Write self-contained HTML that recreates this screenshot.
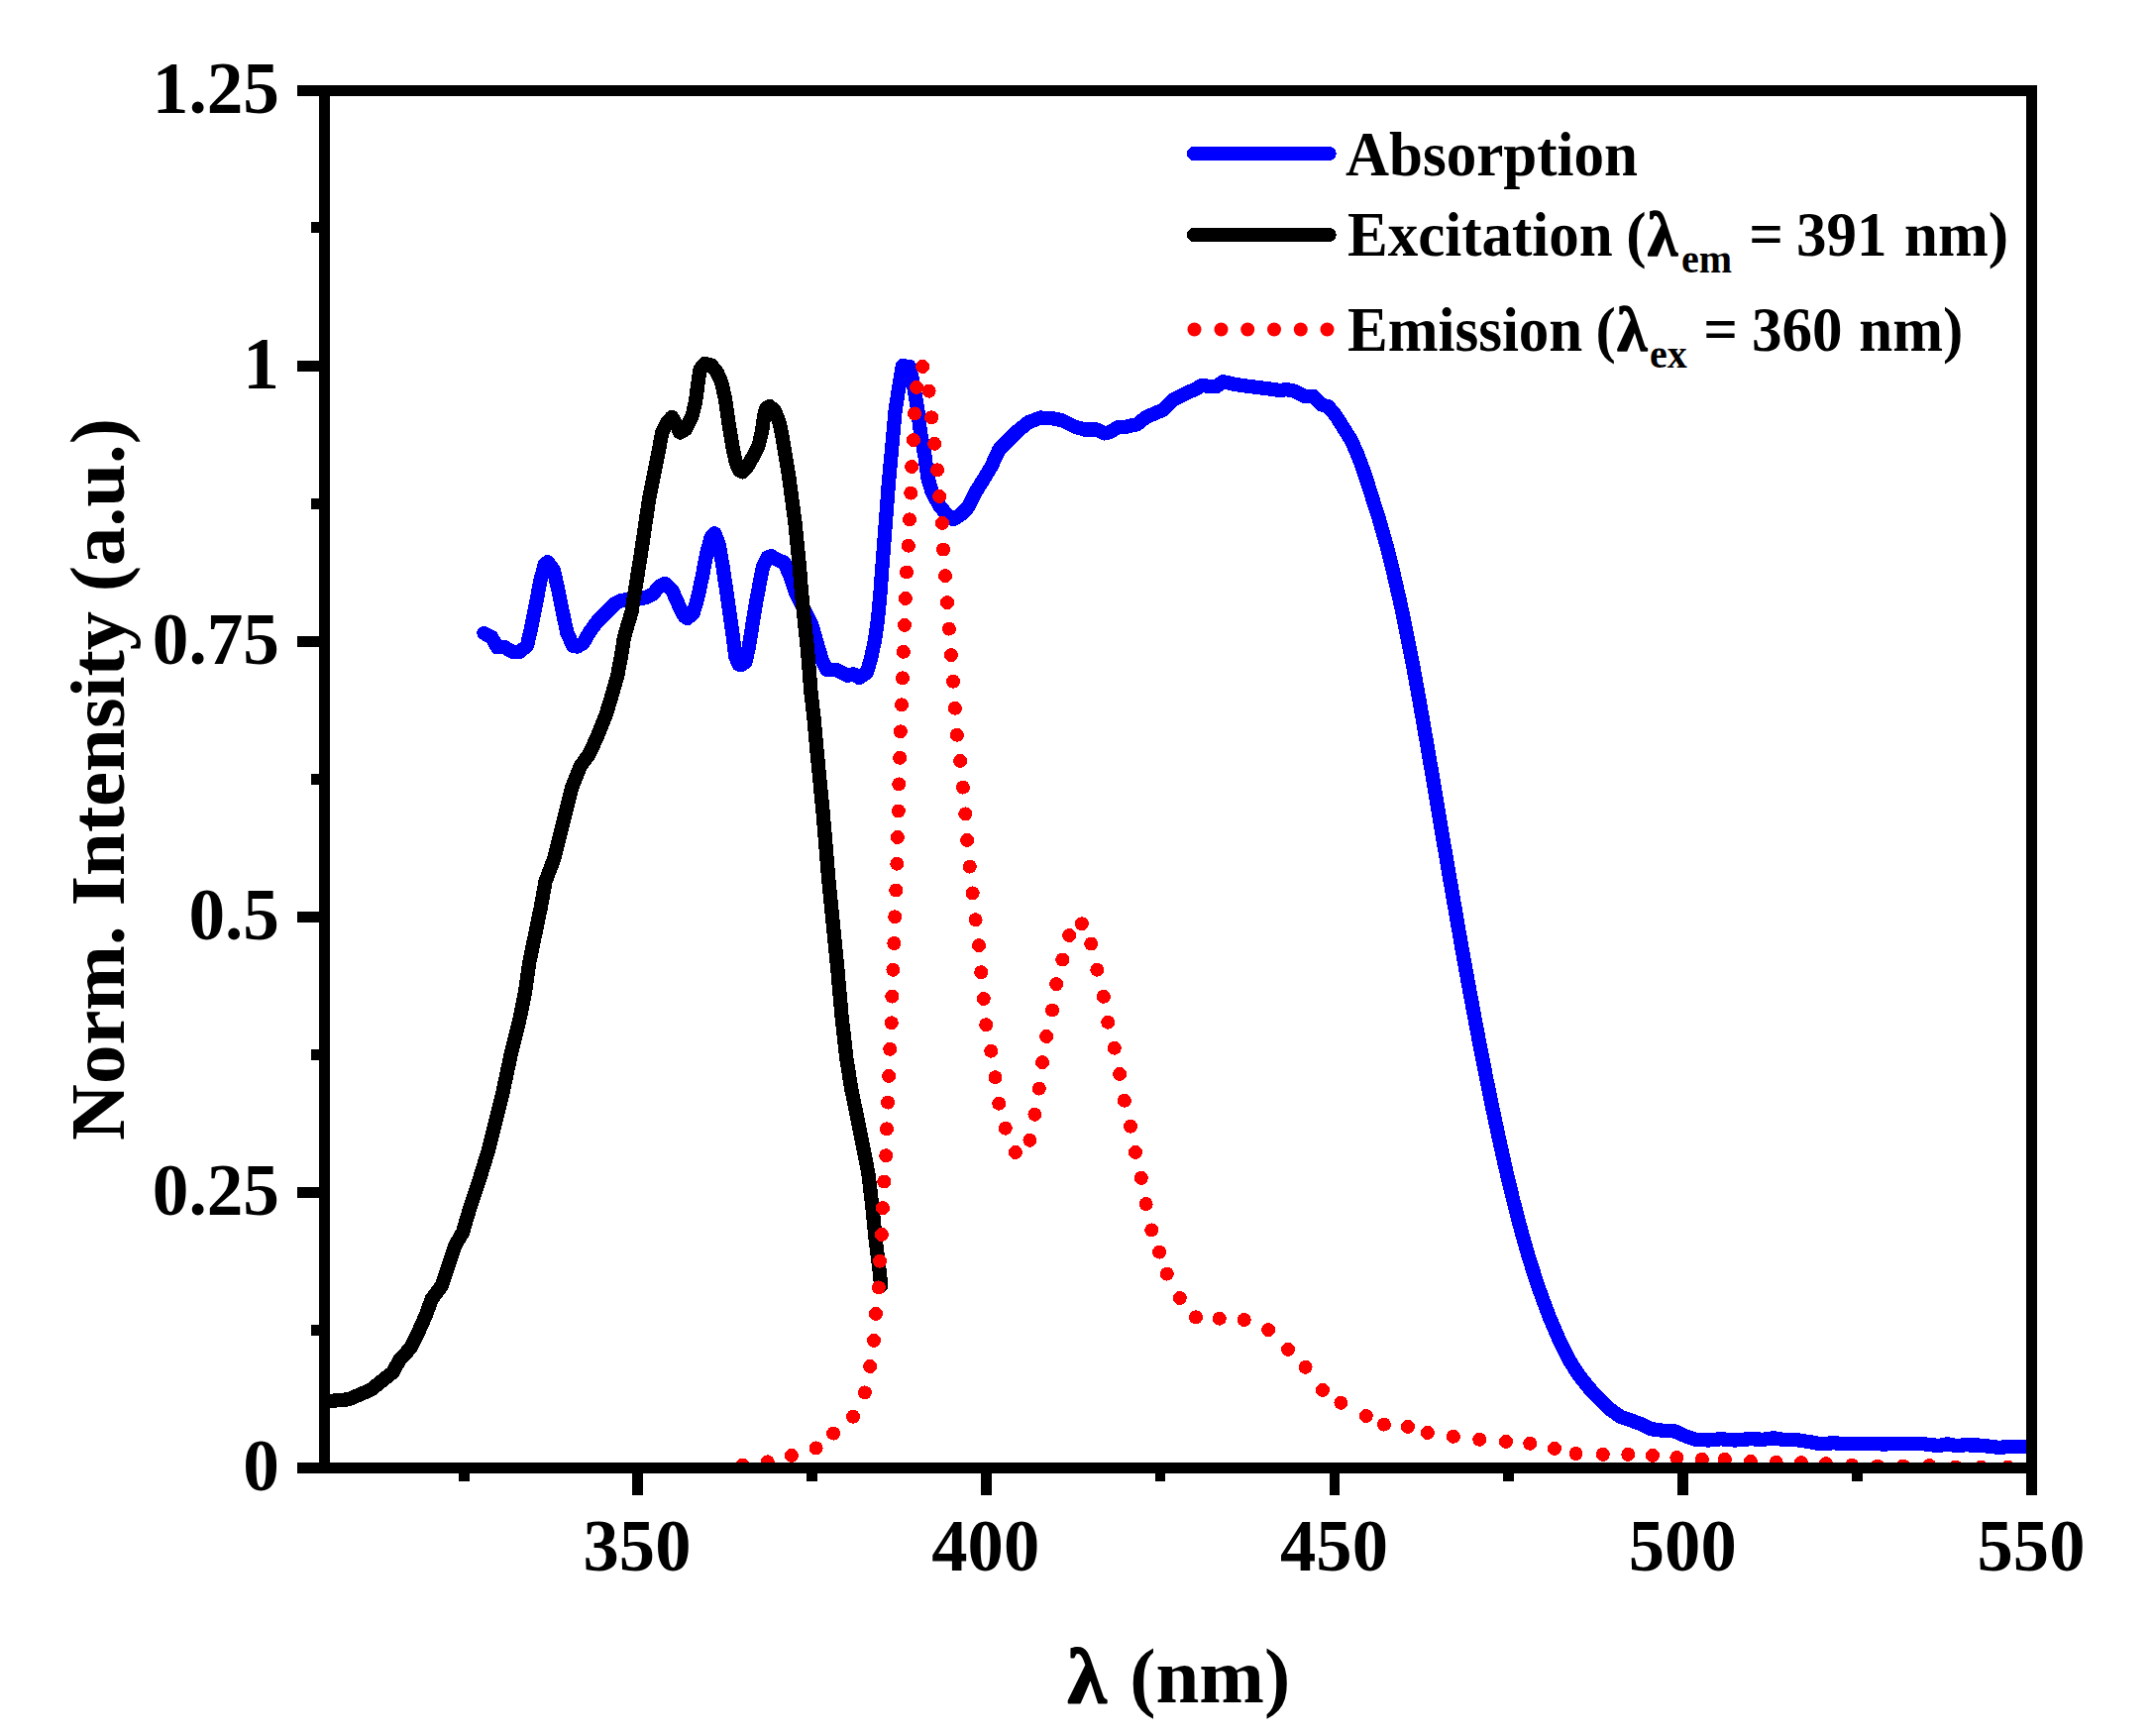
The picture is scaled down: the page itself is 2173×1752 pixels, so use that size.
<!DOCTYPE html>
<html lang="en"><head><meta charset="utf-8"><title>Normalized absorption, excitation and emission spectra</title>
<style>html,body{margin:0;padding:0;background:#fff}body{width:2173px;height:1752px;overflow:hidden}svg{display:block}text{font-family:"Liberation Serif","DejaVu Serif",serif;font-weight:bold;fill:#000}</style></head><body>
<svg width="2173" height="1752" viewBox="0 0 2173 1752">
<rect width="2173" height="1752" fill="#fff"/>
<defs><clipPath id="c"><rect x="333" y="97" width="1712" height="1379"/></clipPath></defs>
<g clip-path="url(#c)" fill="none" stroke-linejoin="round" stroke-linecap="round" shape-rendering="crispEdges">
<polyline stroke="#00f" stroke-width="14.3" points="488.5,639.0 496.0,642.8 502.0,653.3 509.4,653.3 517.0,657.8 524.4,657.8 531.9,651.8 536.4,632.3 540.9,609.9 545.4,585.9 549.9,569.4 552.9,567.2 558.8,575.4 563.3,594.9 567.8,617.4 572.3,638.3 578.3,651.8 582.8,652.5 588.8,648.8 594.8,638.3 602.3,627.8 611.3,618.8 621.7,608.4 627.7,605.7 639.7,605.4 651.7,603.1 659.2,599.4 665.2,591.9 671.2,588.9 678.7,596.4 684.7,609.9 690.6,621.8 693.6,624.1 699.6,618.8 704.1,603.9 708.6,582.9 713.1,558.9 717.6,542.5 721.3,538.3 725.8,550.0 729.6,572.4 734.1,602.4 738.6,633.8 742.3,662.3 745.5,670.5 748.0,671.3 752.5,668.0 756.0,652.0 759.5,630.0 763.0,608.0 766.5,590.0 770.0,572.4 774.4,562.7 778.2,561.2 784.9,564.9 791.7,567.9 796.9,579.9 802.9,597.9 811.9,615.8 819.4,630.8 825.4,651.8 829.9,666.8 834.4,675.8 843.3,675.8 849.3,678.8 855.3,681.8 861.3,680.3 867.3,684.0 874.8,678.8 879.3,663.8 883.0,645.8 886.0,624.8 888.3,600.9 890.6,570.0 893.3,535.0 896.8,489.0 900.2,452.0 903.8,412.5 910.9,369.2 917.9,370.0 921.9,387.9 926.0,411.9 928.9,435.9 933.4,459.8 936.4,482.3 940.9,497.3 948.4,510.7 955.9,519.7 961.8,524.2 969.3,519.7 976.8,512.2 984.3,497.3 991.8,485.3 1000.8,470.3 1008.3,453.8 1018.8,443.3 1027.7,434.4 1038.2,426.1 1050.2,421.6 1062.2,422.1 1072.7,424.6 1084.7,430.6 1095.1,433.6 1107.1,433.6 1114.6,437.4 1120.6,435.9 1128.1,431.4 1137.1,430.6 1147.6,428.2 1156.0,421.5 1165.5,417.1 1174.4,413.4 1184.9,402.9 1196.9,396.9 1205.9,393.2 1213.4,388.7 1220.9,390.2 1227.6,390.2 1234.4,385.2 1244.8,387.6 1256.8,389.4 1268.8,390.9 1280.8,392.4 1291.3,393.9 1298.8,393.2 1306.2,394.7 1316.7,399.9 1325.7,399.9 1333.2,408.1 1340.7,410.4 1348.2,419.4 1355.7,431.4 1363.2,443.3 1369.1,456.1 1375.1,471.8 1381.1,489.8 1387.1,509.2 1390.7,520.0 1399.3,550.0 1406.8,580.0 1413.7,610.0 1419.9,640.0 1425.8,670.0 1431.3,700.0 1436.6,730.0 1441.8,760.0 1446.9,790.0 1452.0,820.0 1457.0,850.0 1462.1,880.0 1467.3,910.0 1472.5,940.0 1477.8,970.0 1483.3,1000.0 1488.9,1030.0 1494.6,1060.0 1500.5,1090.0 1506.7,1120.0 1513.1,1150.0 1519.8,1180.0 1527.0,1210.0 1534.8,1240.0 1543.3,1270.0 1553.0,1300.0 1564.1,1330.0 1571.0,1346.0 1575.3,1355.7 1583.7,1372.5 1593.4,1387.8 1604.6,1401.7 1615.7,1412.9 1625.5,1422.6 1635.2,1429.6 1645.0,1433.1 1654.7,1436.5 1665.9,1442.1 1678.4,1443.8 1691.0,1444.5 1700.7,1449.1 1710.5,1452.6 1724.4,1453.5 1737.0,1452.2 1750.9,1453.5 1766.2,1452.2 1780.1,1452.8 1789.9,1451.2 1799.7,1452.8 1814.0,1453.2 1825.6,1455.1 1838.6,1457.3 1850.3,1456.2 1862.8,1457.3 1882.1,1456.7 1901.4,1457.5 1920.8,1456.7 1938.9,1457.0 1957.0,1459.1 1965.4,1457.3 1973.9,1459.1 1983.6,1458.3 1995.6,1458.5 2007.7,1459.7 2017.4,1460.9 2029.4,1459.9 2046.0,1459.9"/>
<polyline stroke="#000" stroke-width="14.3" points="333.0,1413.9 351.5,1412.3 365.0,1406.7 375.0,1402.0 385.0,1394.0 396.4,1385.0 403.0,1373.0 414.0,1360.6 423.0,1342.6 430.0,1327.0 435.7,1311.0 445.8,1297.7 452.5,1277.5 459.3,1257.0 467.0,1243.8 475.0,1216.8 484.0,1189.9 493.0,1160.7 499.7,1133.7 507.6,1102.0 516.4,1060.5 524.3,1029.0 529.9,1002.0 534.4,970.6 540.0,943.7 545.6,916.7 550.5,889.7 559.0,867.3 565.8,840.3 572.6,813.3 577.0,795.4 586.0,772.9 594.0,762.0 602.3,744.7 611.3,722.2 617.3,702.7 623.2,681.7 627.0,662.3 630.0,642.8 637.5,617.4 642.3,587.4 646.0,564.8 650.5,534.8 654.9,504.7 659.4,482.3 663.9,459.8 668.4,435.9 672.9,426.9 678.1,420.9 683.3,429.9 686.3,436.6 692.3,432.9 698.3,420.9 702.0,405.9 704.3,387.9 706.6,372.9 711.0,367.0 717.8,368.5 723.8,375.9 728.3,386.4 732.0,402.9 735.0,423.9 738.8,447.8 742.5,465.8 746.2,474.8 749.2,476.3 753.7,471.8 759.7,461.3 765.7,449.3 769.0,435.9 771.0,420.9 773.2,411.9 776.9,410.1 782.2,414.9 786.7,426.9 789.7,441.8 792.7,459.8 796.4,482.3 799.4,504.7 802.4,527.2 804.7,549.7 806.9,572.1 809.2,600.0 814.9,654.8 818.6,699.7 821.5,725.0 825.3,766.2 830.7,821.0 836.3,888.0 841.0,934.7 845.4,979.0 849.4,1024.5 854.5,1069.5 859.3,1099.0 870.0,1152.0 876.5,1185.0 880.3,1216.9 884.0,1253.7 887.7,1283.2 889.2,1297.5"/>
<g fill="#f00" stroke="none">
<circle cx="749.5" cy="1478.6" r="7.0"/>
<circle cx="774.7" cy="1475.3" r="7.0"/>
<circle cx="798.9" cy="1468.9" r="7.0"/>
<circle cx="823.6" cy="1461.4" r="7.0"/>
<circle cx="841.1" cy="1446.6" r="7.0"/>
<circle cx="861.0" cy="1429.7" r="7.0"/>
<circle cx="872.9" cy="1405.4" r="7.0"/>
<circle cx="878.1" cy="1379.0" r="7.0"/>
<circle cx="882.0" cy="1352.8" r="7.0"/>
<circle cx="884.0" cy="1325.9" r="7.0"/>
<circle cx="886.9" cy="1299.4" r="7.0"/>
<circle cx="888.0" cy="1272.7" r="7.0"/>
<circle cx="889.9" cy="1246.0" r="7.0"/>
<circle cx="891.0" cy="1219.1" r="7.0"/>
<circle cx="892.3" cy="1192.5" r="7.0"/>
<circle cx="894.2" cy="1166.2" r="7.0"/>
<circle cx="895.0" cy="1139.4" r="7.0"/>
<circle cx="896.1" cy="1112.6" r="7.0"/>
<circle cx="897.1" cy="1085.9" r="7.0"/>
<circle cx="898.2" cy="1058.8" r="7.0"/>
<circle cx="899.8" cy="1032.3" r="7.0"/>
<circle cx="900.3" cy="1005.6" r="7.0"/>
<circle cx="901.4" cy="978.8" r="7.0"/>
<circle cx="902.4" cy="952.0" r="7.0"/>
<circle cx="903.2" cy="925.3" r="7.0"/>
<circle cx="904.3" cy="898.5" r="7.0"/>
<circle cx="905.3" cy="871.7" r="7.0"/>
<circle cx="905.9" cy="845.0" r="7.0"/>
<circle cx="906.9" cy="818.5" r="7.0"/>
<circle cx="907.2" cy="791.4" r="7.0"/>
<circle cx="908.1" cy="764.8" r="7.0"/>
<circle cx="908.9" cy="738.3" r="7.0"/>
<circle cx="910.0" cy="711.3" r="7.0"/>
<circle cx="911.0" cy="684.4" r="7.0"/>
<circle cx="911.9" cy="657.8" r="7.0"/>
<circle cx="913.0" cy="630.8" r="7.0"/>
<circle cx="913.9" cy="604.0" r="7.0"/>
<circle cx="915.1" cy="577.5" r="7.0"/>
<circle cx="916.9" cy="550.7" r="7.0"/>
<circle cx="918.0" cy="524.3" r="7.0"/>
<circle cx="919.2" cy="497.6" r="7.0"/>
<circle cx="920.2" cy="471.0" r="7.0"/>
<circle cx="922.0" cy="444.1" r="7.0"/>
<circle cx="923.1" cy="417.4" r="7.0"/>
<circle cx="925.1" cy="390.9" r="7.0"/>
<circle cx="931.1" cy="370.0" r="7.0"/>
<circle cx="937.6" cy="394.7" r="7.0"/>
<circle cx="940.1" cy="421.3" r="7.0"/>
<circle cx="943.1" cy="447.8" r="7.0"/>
<circle cx="946.0" cy="474.3" r="7.0"/>
<circle cx="948.1" cy="501.0" r="7.0"/>
<circle cx="951.0" cy="527.9" r="7.0"/>
<circle cx="952.0" cy="554.6" r="7.0"/>
<circle cx="954.0" cy="581.2" r="7.0"/>
<circle cx="956.0" cy="608.1" r="7.0"/>
<circle cx="957.9" cy="634.6" r="7.0"/>
<circle cx="959.9" cy="661.1" r="7.0"/>
<circle cx="962.0" cy="687.7" r="7.0"/>
<circle cx="963.9" cy="714.7" r="7.0"/>
<circle cx="965.9" cy="741.7" r="7.0"/>
<circle cx="969.1" cy="767.9" r="7.0"/>
<circle cx="971.9" cy="794.6" r="7.0"/>
<circle cx="974.3" cy="821.4" r="7.0"/>
<circle cx="976.1" cy="847.9" r="7.0"/>
<circle cx="978.8" cy="874.6" r="7.0"/>
<circle cx="981.7" cy="901.4" r="7.0"/>
<circle cx="984.6" cy="928.2" r="7.0"/>
<circle cx="988.0" cy="954.2" r="7.0"/>
<circle cx="990.2" cy="981.2" r="7.0"/>
<circle cx="992.8" cy="1008.0" r="7.0"/>
<circle cx="995.2" cy="1034.2" r="7.0"/>
<circle cx="1000.2" cy="1060.7" r="7.0"/>
<circle cx="1004.5" cy="1087.2" r="7.0"/>
<circle cx="1008.2" cy="1113.7" r="7.0"/>
<circle cx="1014.8" cy="1138.6" r="7.0"/>
<circle cx="1024.9" cy="1163.0" r="7.0"/>
<circle cx="1039.4" cy="1150.8" r="7.0"/>
<circle cx="1044.4" cy="1124.8" r="7.0"/>
<circle cx="1048.8" cy="1098.6" r="7.0"/>
<circle cx="1052.0" cy="1072.2" r="7.0"/>
<circle cx="1056.1" cy="1046.0" r="7.0"/>
<circle cx="1062.0" cy="1019.5" r="7.0"/>
<circle cx="1066.1" cy="993.2" r="7.0"/>
<circle cx="1072.3" cy="968.5" r="7.0"/>
<circle cx="1079.2" cy="944.0" r="7.0"/>
<circle cx="1091.9" cy="932.3" r="7.0"/>
<circle cx="1101.2" cy="952.5" r="7.0"/>
<circle cx="1107.3" cy="978.7" r="7.0"/>
<circle cx="1113.9" cy="1005.8" r="7.0"/>
<circle cx="1118.2" cy="1031.7" r="7.0"/>
<circle cx="1124.8" cy="1057.7" r="7.0"/>
<circle cx="1130.1" cy="1083.9" r="7.0"/>
<circle cx="1134.9" cy="1110.7" r="7.0"/>
<circle cx="1141.0" cy="1136.7" r="7.0"/>
<circle cx="1146.0" cy="1162.9" r="7.0"/>
<circle cx="1151.8" cy="1188.9" r="7.0"/>
<circle cx="1156.6" cy="1215.1" r="7.0"/>
<circle cx="1162.2" cy="1241.4" r="7.0"/>
<circle cx="1170.1" cy="1263.6" r="7.0"/>
<circle cx="1177.8" cy="1285.6" r="7.0"/>
<circle cx="1190.8" cy="1310.0" r="7.0"/>
<circle cx="1207.0" cy="1329.4" r="7.0"/>
<circle cx="1230.8" cy="1330.7" r="7.0"/>
<circle cx="1255.7" cy="1332.0" r="7.0"/>
<circle cx="1280.1" cy="1342.1" r="7.0"/>
<circle cx="1300.0" cy="1361.8" r="7.0"/>
<circle cx="1317.6" cy="1379.8" r="7.0"/>
<circle cx="1335.0" cy="1402.9" r="7.0"/>
<circle cx="1353.4" cy="1415.8" r="7.0"/>
<circle cx="1378.8" cy="1429.0" r="7.0"/>
<circle cx="1396.9" cy="1437.6" r="7.0"/>
<circle cx="1421.0" cy="1439.9" r="7.0"/>
<circle cx="1440.9" cy="1446.0" r="7.0"/>
<circle cx="1466.9" cy="1449.8" r="7.0"/>
<circle cx="1493.2" cy="1452.8" r="7.0"/>
<circle cx="1520.0" cy="1454.9" r="7.0"/>
<circle cx="1544.2" cy="1456.8" r="7.0"/>
<circle cx="1569.0" cy="1461.9" r="7.0"/>
<circle cx="1590.5" cy="1467.0" r="7.0"/>
<circle cx="1617.8" cy="1467.9" r="7.0"/>
<circle cx="1643.3" cy="1467.9" r="7.0"/>
<circle cx="1668.0" cy="1468.9" r="7.0"/>
<circle cx="1692.4" cy="1471.1" r="7.0"/>
<circle cx="1717.9" cy="1472.8" r="7.0"/>
<circle cx="1740.9" cy="1472.8" r="7.0"/>
<circle cx="1766.9" cy="1474.9" r="7.0"/>
<circle cx="1792.7" cy="1475.8" r="7.0"/>
<circle cx="1817.9" cy="1476.2" r="7.0"/>
<circle cx="1842.8" cy="1477.1" r="7.0"/>
<circle cx="1869.1" cy="1478.7" r="7.0"/>
<circle cx="1895.0" cy="1479.5" r="7.0"/>
<circle cx="1920.8" cy="1479.5" r="7.0"/>
<circle cx="1947.3" cy="1479.0" r="7.0"/>
<circle cx="1973.9" cy="1480.5" r="7.0"/>
<circle cx="1999.5" cy="1480.5" r="7.0"/>
<circle cx="2026.4" cy="1480.7" r="7.0"/>
</g></g>
<g fill="#000" shape-rendering="crispEdges">
<rect x="300" y="86" width="1756" height="11"/>
<rect x="300" y="1476" width="1756" height="11"/>
<rect x="322" y="86" width="11" height="1401"/>
<rect x="2045" y="86" width="11" height="1423"/>
<rect x="300" y="364" width="22" height="11"/>
<rect x="300" y="642" width="22" height="11"/>
<rect x="300" y="920" width="22" height="11"/>
<rect x="300" y="1198" width="22" height="11"/>
<rect x="314" y="224" width="8" height="11"/>
<rect x="314" y="503" width="8" height="11"/>
<rect x="314" y="781" width="8" height="11"/>
<rect x="314" y="1059" width="8" height="11"/>
<rect x="314" y="1337" width="8" height="11"/>
<rect x="638" y="1487" width="11" height="22"/>
<rect x="990" y="1487" width="11" height="22"/>
<rect x="1342" y="1487" width="10" height="22"/>
<rect x="1693" y="1487" width="11" height="22"/>
<rect x="463" y="1487" width="11" height="8"/>
<rect x="814" y="1487" width="11" height="8"/>
<rect x="1166" y="1487" width="10" height="8"/>
<rect x="1517" y="1487" width="11" height="8"/>
<rect x="1869" y="1487" width="11" height="8"/>
</g>
<text transform="translate(282.00 113.90) scale(1.018 1.025)" font-size="72" text-anchor="end">1.25</text>
<text transform="translate(282.00 391.90) scale(1.018 1.025)" font-size="72" text-anchor="end">1</text>
<text transform="translate(282.00 669.90) scale(1.018 1.025)" font-size="72" text-anchor="end">0.75</text>
<text transform="translate(282.00 947.90) scale(1.018 1.025)" font-size="72" text-anchor="end">0.5</text>
<text transform="translate(282.00 1225.90) scale(1.018 1.025)" font-size="72" text-anchor="end">0.25</text>
<text transform="translate(282.00 1503.90) scale(1.018 1.025)" font-size="72" text-anchor="end">0</text>
<text transform="translate(643.00 1584.70) scale(1.008 1.025)" font-size="72" text-anchor="middle">350</text>
<text transform="translate(994.75 1584.70) scale(1.008 1.025)" font-size="72" text-anchor="middle">400</text>
<text transform="translate(1346.50 1584.70) scale(1.008 1.025)" font-size="72" text-anchor="middle">450</text>
<text transform="translate(1698.25 1584.70) scale(1.008 1.025)" font-size="72" text-anchor="middle">500</text>
<text transform="translate(2050.00 1584.70) scale(1.008 1.025)" font-size="72" text-anchor="middle">550</text>
<text transform="translate(0 1718) scale(1.0 1.0)" font-size="78.8"><tspan x="1077.8" stroke="#000" stroke-width="2" stroke-linejoin="round">λ</tspan><tspan x="1120.5"> (nm)</tspan></text>
<text transform="translate(124.5 786.5) rotate(-90) scale(1.0 1.0)" font-size="78.8" text-anchor="middle">Norm. Intensity (a.u.)</text>
<g fill="none" stroke-linecap="round" shape-rendering="crispEdges">
<line x1="1205" y1="155" x2="1341.5" y2="155" stroke="#00f" stroke-width="14.3"/>
<line x1="1205" y1="237" x2="1341.5" y2="237" stroke="#000" stroke-width="14.3"/>
</g><g fill="#f00">
<circle cx="1205.5" cy="332.5" r="7.0"/>
<circle cx="1232.5" cy="332.5" r="7.0"/>
<circle cx="1259.2" cy="332.5" r="7.0"/>
<circle cx="1286.0" cy="332.5" r="7.0"/>
<circle cx="1312.8" cy="332.5" r="7.0"/>
<circle cx="1339.5" cy="332.5" r="7.0"/>
</g>
<text transform="translate(0 176.6) scale(1.0 1.04)" font-size="61"><tspan x="1358.00">Absorption</tspan></text>
<text transform="translate(0 258) scale(1.0 1.04)" font-size="61"><tspan x="1360.00">Excitation</tspan><tspan x="1626.00"> (</tspan><tspan stroke="#000" stroke-width="1.6" stroke-linejoin="round" dx="1.5">λ</tspan><tspan x="1697.00" dy="16.153846153846153" font-size="40">em</tspan><tspan x="1750.00" dy="-16.153846153846153"> = </tspan><tspan x="1813.00">391</tspan><tspan x="1906.80"> nm)</tspan></text>
<text transform="translate(0 354.3) scale(1.0 1.04)" font-size="61"><tspan x="1360.00">Emission</tspan><tspan x="1595.20"> (</tspan><tspan stroke="#000" stroke-width="1.6" stroke-linejoin="round" dx="1.5">λ</tspan><tspan x="1665.00" dy="16.153846153846153" font-size="40">ex</tspan><tspan x="1704.00" dy="-16.153846153846153"> = </tspan><tspan x="1768.00">360</tspan><tspan x="1861.00"> nm)</tspan></text>
</svg></body></html>
